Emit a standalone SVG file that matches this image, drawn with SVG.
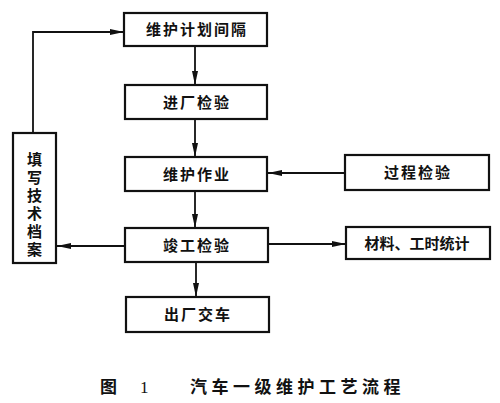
<svg xmlns="http://www.w3.org/2000/svg" width="500" height="403" viewBox="0 0 500 403">
<defs>
<marker id="ah" viewBox="0 0 14 6" refX="14" refY="3" markerWidth="14" markerHeight="6" markerUnits="userSpaceOnUse" orient="auto">
<path d="M0,0 L14,3 L0,6 Z" fill="#111"/>
</marker>
<style>
.box{fill:#fff;stroke:#111;stroke-width:2.2}
.lbl{font-family:"Noto Sans CJK SC",sans-serif;font-size:15px;font-weight:bold;fill:#111;text-anchor:middle;letter-spacing:2px}
.vert{font-family:"Noto Sans CJK SC",sans-serif;font-size:15px;font-weight:bold;fill:#111;writing-mode:vertical-rl;letter-spacing:3px}
.con{fill:none;stroke:#111;stroke-width:1.8;marker-end:url(#ah)}
.cap{font-family:"Noto Sans CJK SC",serif;font-size:17px;font-weight:bold;fill:#111}
</style>
</defs>
<rect width="500" height="403" fill="#fff"/>
<g id="connectors">
<path class="con" d="M33,133 V32 H124"/>
<path class="con" d="M195,46 V85"/>
<path class="con" d="M195,119 V157"/>
<path class="con" d="M345,173 H268"/>
<path class="con" d="M195,191 V228"/>
<path class="con" d="M125,246 H57"/>
<path class="con" d="M268,244 H346"/>
<path class="con" d="M196,262 V297"/>
</g>
<g id="n1"><rect class="box" x="124" y="13" width="143" height="33"/><text class="lbl" x="197" y="35">维护计划间隔</text></g>
<g id="n2"><rect class="box" x="125" y="85" width="142" height="34"/><text class="lbl" x="197" y="108">进厂检验</text></g>
<g id="n3"><rect class="box" x="125" y="157" width="142" height="34"/><text class="lbl" x="197" y="180">维护作业</text></g>
<g id="n4"><rect class="box" x="125" y="228" width="143" height="34"/><text class="lbl" x="197" y="251">竣工检验</text></g>
<g id="n5"><rect class="box" x="126" y="297" width="143" height="35"/><text class="lbl" x="198" y="320">出厂交车</text></g>
<g id="n6"><rect class="box" x="345" y="155" width="144" height="35"/><text class="lbl" x="418" y="178">过程检验</text></g>
<g id="n7"><rect class="box" x="346" y="227" width="144" height="32"/><text class="lbl" x="417" y="249" style="letter-spacing:0">材料、工时统计</text></g>
<g id="n8"><rect class="box" x="13" y="133" width="43" height="130"/>
<text class="vert" x="34.5" y="152">填写技术档案</text>
</g>
<text class="cap" x="100" y="393">图</text>
<text class="cap" x="140" y="393" style="font-family:'Liberation Serif',serif;font-weight:normal">1</text>
<text class="cap" x="190" y="393" style="letter-spacing:4.5px">汽车一级维护工艺流程</text>
</svg>
